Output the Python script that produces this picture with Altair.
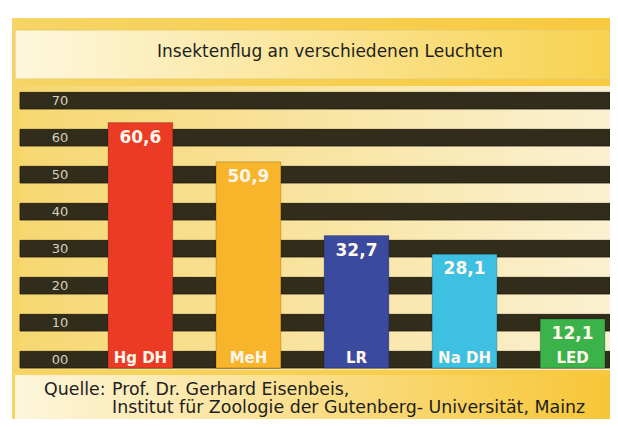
import altair as alt
import pandas as pd

categories = ["Hg DH", "MeH", "LR", "Na DH", "LED"]
values = [60.6, 50.9, 32.7, 28.1, 12.1]
bar_colors = ["#ec3b25", "#f8b42a", "#394a9f", "#3ec0e2", "#3cb24b"]
tick_values = [0, 10, 20, 30, 40, 50, 60, 70]
tick_labels = ["00", "10", "20", "30", "40", "50", "60", "70"]
title_text = "Insektenflug an verschiedenen Leuchten"
source_label = "Quelle:"
source_lines = ["Prof. Dr. Gerhard Eisenbeis,",
                "Institut für Zoologie der Gutenberg- Universität, Mainz"]

bars_df = pd.DataFrame({"cat": categories, "val": values, "col": bar_colors})
bars_df["lab"] = [f"{v:.1f}".replace(".", ",") for v in values]
ticks_df = pd.DataFrame({"t": tick_values, "lab": tick_labels})
one = pd.DataFrame({"a": [0]})

W, H = 602, 411
# stripes (the printed scale) and bars are drawn at slightly different scales in the original
stripe_scale = alt.Scale(domain=[-13.78, 97.3], nice=False, zero=False)
bar_scale = alt.Scale(domain=[-12.6, 88.9], nice=False, zero=False)
xscale = alt.Scale(domain=categories, range=[100, 597], paddingInner=0.4, paddingOuter=0)


def grad(c1, c2, x2=1, y2=0):
    return alt.LinearGradient(
        gradient="linear",
        stops=[alt.GradientStop(color=c1, offset=0), alt.GradientStop(color=c2, offset=1)],
        x1=0, x2=x2, y1=0, y2=y2,
    )


def box(x, x2, y, y2, fill, stroke=None):
    kw = {}
    if stroke:
        kw = {"stroke": stroke, "strokeWidth": 1}
    return alt.Chart(one).mark_rect(color=fill, **kw).encode(
        x=alt.value(x), x2=alt.value(x2), y=alt.value(y), y2=alt.value(y2)
    )


def label(txt, x, y, size=17.4, align="left"):
    return alt.Chart(one).mark_text(
        text=txt, font="DejaVu Sans", fontSize=size, color="#1e1e1e",
        align=align, baseline="middle"
    ).encode(x=alt.value(x), y=alt.value(y))


white = box(0, W, 0, H, "#ffffff")
outer = box(4, W, 10, H, grad("#f6d566", "#f8c93e"))
plotbg = box(12, W, 78, 362, grad("#f6d770", "#fbf1d2"))
titlebox = box(7, W, 22, 71, grad("#fdf7de", "#f8d250"), stroke="#e9cb68")
footbox = box(7, W, 367, H, grad("#fdf6dc", "#f7c636"))

title = label(title_text, 322, 44, size=17, align="center")
src0 = label(source_label, 36, 382)
src1 = label(source_lines[0], 104, 382)
src2 = label(source_lines[1], 104, 400)

stripes = alt.Chart(ticks_df).transform_calculate(
    t2="datum.t + 4.5"
).mark_rect(color="#322c1b", stroke="#1e1a10", strokeWidth=0.8).encode(
    x=alt.value(12), x2=alt.value(W),
    y=alt.Y("t:Q", scale=stripe_scale, axis=None),
    y2="t2:Q",
)

tick_text = alt.Chart(ticks_df).transform_calculate(
    tm="datum.t + 2.25"
).mark_text(font="DejaVu Sans", fontSize=13, color="#d6d0bd",
            align="center", baseline="middle").encode(
    x=alt.value(52),
    y=alt.Y("tm:Q", scale=stripe_scale, axis=None),
    text="lab:N",
)

bars = alt.Chart(bars_df).mark_bar(strokeWidth=1, stroke="#00000030").encode(
    x=alt.X("cat:N", scale=xscale, axis=None, sort=categories),
    y=alt.Y("val:Q", scale=bar_scale, axis=None),
    y2=alt.datum(0),
    color=alt.Color("col:N", scale=None),
)

val_text = alt.Chart(bars_df).mark_text(
    font="DejaVu Sans", fontSize=17, fontWeight="bold", color="#fff6ec",
    align="center", baseline="middle", dy=15
).encode(
    x=alt.X("cat:N", scale=xscale, axis=None, sort=categories, bandPosition=0.5),
    y=alt.Y("val:Q", scale=bar_scale, axis=None),
    text="lab:N",
)

cat_text = alt.Chart(bars_df).mark_text(
    font="DejaVu Sans", fontSize=15, fontWeight="bold", color="#fff6ec",
    align="center", baseline="middle", dy=-10
).encode(
    x=alt.X("cat:N", scale=xscale, axis=None, sort=categories, bandPosition=0.5),
    y=alt.Y(datum=0, scale=bar_scale, axis=None),
    text="cat:N",
)

chart = alt.layer(
    white, outer, plotbg, titlebox, footbox, title, src0, src1, src2,
    stripes, tick_text, bars, val_text, cat_text
).resolve_scale(y="independent").properties(
    width=W, height=H, autosize=alt.AutoSizeParams(type="none"), padding=0
).configure_view(stroke=None)

chart.save("out.html", embed_options={"renderer": "svg", "actions": False})
